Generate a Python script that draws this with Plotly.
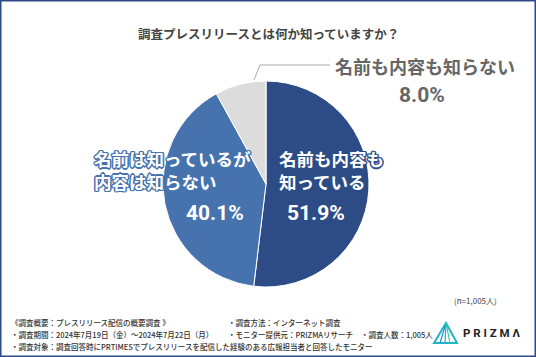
import plotly.graph_objects as go

categories = ["名前も内容も知っている", "名前は知っているが内容は知らない", "名前も内容も知らない"]
values = [51.9, 40.1, 8.0]
colors = ["#2d4c86", "#4673ad", "#dcdcdc"]

title_text = "調査プレスリリースとは何か知っていますか？"
footer_rows = [
    ["《調査概要：プレスリリース配信の概要調査 》", "・調査方法：インターネット調査", ""],
    ["・調査期間：2024年7月19日（金）～2024年7月22日（月）", "・モニター提供元：PRIZMAリサーチ", "・調査人数：1,005人"],
    ["・調査対象：調査回答時にPRTIMESでプレスリリースを配信した経験のある広報担当者と回答したモニター", "", ""],
]
n_note = "(n=1,005人)"

W, H = 536, 357
FONT = "Noto Sans CJK JP"
NUMFONT = "Roboto"

def px(x):
    return x / W

def py(y):
    return 1 - y / H

fig = go.Figure()
fig.add_trace(go.Pie(
    labels=categories,
    values=values,
    sort=False,
    direction="clockwise",
    rotation=0,
    marker=dict(colors=colors, line=dict(color="white", width=1)),
    textinfo="none",
    hoverinfo="label+percent",
    showlegend=False,
    domain=dict(x=[px(163), px(369)], y=[py(287), py(81)]),
))

def outline(c):
    return ", ".join(f"{dx}px {dy}px 0 {c}" for dx, dy in
                     [(-1, -1), (1, -1), (-1, 1), (1, 1), (0, 1.5), (0, -1.5), (1.5, 0), (-1.5, 0)])

ann = []
ann.append(dict(x=px(268), y=py(33), text=f"<b>{title_text}</b>", showarrow=False,
                font=dict(family=FONT, size=12.5, color="#444444"), xanchor="center", yanchor="middle"))

ann.append(dict(x=px(277), y=py(170), text="<b>名前も内容も<br>知っている</b>", showarrow=False, align="left",
                font=dict(family=FONT, size=17.5, color="white", shadow=outline(colors[0])),
                xanchor="left", yanchor="middle"))
ann.append(dict(x=px(316), y=py(213), text=f"<b>{values[0]:.1f}%</b>", showarrow=False,
                font=dict(family=NUMFONT, size=21, color="white"), xanchor="center", yanchor="middle"))

ann.append(dict(x=px(92), y=py(170), text="<b>名前は知っているが<br>内容は知らない</b>", showarrow=False, align="left",
                font=dict(family=FONT, size=17.5, color="white", shadow=outline(colors[1])),
                xanchor="left", yanchor="middle"))
ann.append(dict(x=px(215), y=py(213), text=f"<b>{values[1]:.1f}%</b>", showarrow=False,
                font=dict(family=NUMFONT, size=21, color="white"), xanchor="center", yanchor="middle"))

ann.append(dict(x=px(425), y=py(66), text="<b>名前も内容も知らない</b>", showarrow=False,
                font=dict(family=FONT, size=18, color="#666666"), xanchor="center", yanchor="middle"))
ann.append(dict(x=px(422), y=py(95), text=f"<b>{values[2]:.1f}%</b>", showarrow=False,
                font=dict(family=NUMFONT, size=21, color="#666666"), xanchor="center", yanchor="middle"))

ann.append(dict(x=px(475), y=py(300), text=n_note, showarrow=False,
                font=dict(family=FONT, size=8, color="#444444"), xanchor="center", yanchor="middle"))

col_x = [9, 226, 359]
row_y = [322, 334, 346]
for r, row in enumerate(footer_rows):
    for c, t in enumerate(row):
        if t:
            ann.append(dict(x=px(col_x[c]), y=py(row_y[r]), text=t, showarrow=False,
                            font=dict(family=FONT, size=7.5, color="#333333", weight=500),
                            xanchor="left", yanchor="middle"))

ann.append(dict(x=px(461), y=py(333), text="<b>P R I Z M Λ</b>", showarrow=False,
                font=dict(family="Roboto", size=11.5, color="#222222"), xanchor="left", yanchor="middle"))

shapes = []
shapes.append(dict(type="rect", xref="paper", yref="paper", x0=0, y0=0, x1=1, y1=1,
                   line=dict(color="#2c4a87", width=3), fillcolor="rgba(0,0,0,0)"))
shapes.append(dict(type="path", xref="paper", yref="paper",
                   path=f"M {px(254)} {py(80)} L {px(260)} {py(65)} L {px(330)} {py(65)}",
                   line=dict(color="#aaaaaa", width=1)))
tri_cols = ["#1f8fd6", "#22b5c8", "#2fcf9a"]
shapes.append(dict(type="path", xref="paper", yref="paper",
                   path=f"M {px(434)} {py(343)} L {px(446)} {py(323)} L {px(457)} {py(343)} Z",
                   line=dict(color="#22b5c8", width=2)))
for i, c in enumerate(tri_cols):
    shapes.append(dict(type="line", xref="paper", yref="paper",
                       x0=px(446), y0=py(323), x1=px(440 + i * 5), y1=py(343),
                       line=dict(color=c, width=1.2)))

fig.update_layout(
    width=W, height=H,
    margin=dict(l=0, r=0, t=0, b=0),
    paper_bgcolor="white", plot_bgcolor="white",
    annotations=ann, shapes=shapes,
)

fig.write_html("out.html", config={"displayModeBar": False},
               post_script="document.body.style.margin='0';document.body.style.overflow='hidden';")
